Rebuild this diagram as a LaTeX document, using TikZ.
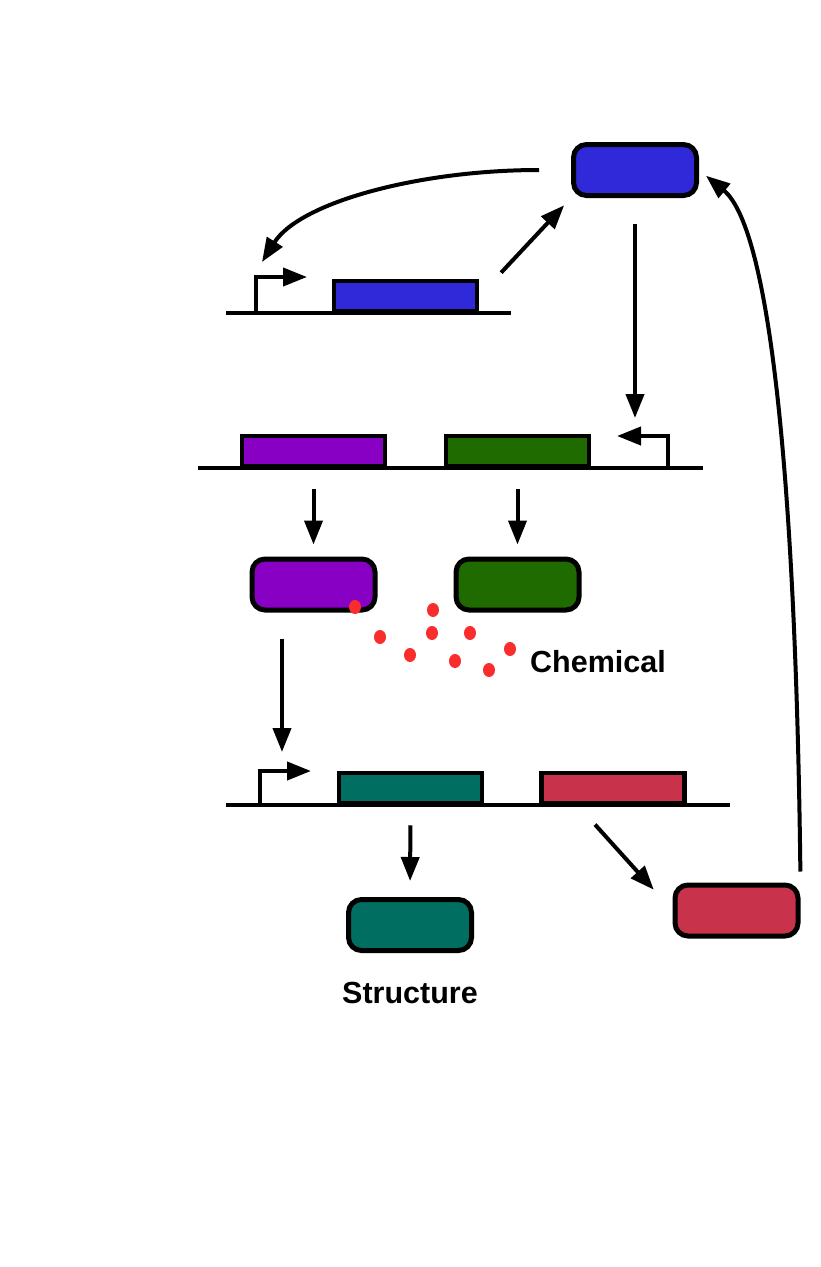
\documentclass[tikz,border=0pt]{standalone}
\usepackage{fontspec}
\setmainfont{Liberation Sans}
\usetikzlibrary{arrows.meta,calc}

\definecolor{bluep}{RGB}{48,41,217}
\definecolor{purplep}{RGB}{136,0,196}
\definecolor{greenp}{RGB}{32,107,0}
\definecolor{tealp}{RGB}{0,110,96}
\definecolor{redp}{RGB}{200,50,75}
\definecolor{dotred}{RGB}{250,45,45}

\begin{document}
\begin{tikzpicture}[x=1pt,y=-1pt,
	gene/.style={draw, line width=4.5pt, minimum width=143pt, minimum height=30pt, inner sep=0pt},
	prot/.style={draw, line width=5pt, rounded corners=13pt, minimum width=123pt, minimum height=51pt, inner sep=0pt},
	arr/.style={line width=4pt, -{Triangle[length=24pt,width=18pt]}},
	dna/.style={line width=4.5pt},
	lbl/.style={font=\bfseries\fontsize{30.5}{36}\selectfont, inner sep=0pt}]
	
	\fill[white] (0,0) rectangle (820,1267);
	\useasboundingbox (0,0) rectangle (820,1267);
	
	% proteins
	\node[prot, fill=bluep] (bprot) at (635,170) {};
	\node[prot, fill=purplep] (pprot) at (313.5,584.5) {};
	\node[prot, fill=greenp] (gprot) at (517.5,584.5) {};
	\node[prot, fill=tealp] (tprot) at (410,925) {};
	\node[prot, fill=redp] (rprot) at (736.5,910.5) {};
	
	% genes
	\node[gene, fill=bluep] (bgene) at (405.5,296) {};
	\node[gene, fill=purplep] (pgene) at (313.5,451) {};
	\node[gene, fill=greenp] (ggene) at (517.5,451) {};
	\node[gene, fill=tealp] (tgene) at (410.5,788) {};
	\node[gene, fill=redp] (rgene) at (613,788) {};
	
	% DNA
	\draw[dna] (226,313) -- (511,313);
	\draw[dna] (198,468) -- (703,468);
	\draw[dna] (226,805) -- (730,805);
	
	% promoters
	\draw[arr] (256,313) |- (307,277);
	\draw[arr] (668,468) |- (617,436);
	\draw[arr] (260,805) |- (311,771);
	
	\coordinate (t1) at (262,262);
	\coordinate (t2) at (635,418);
	\coordinate (t3) at (282,752);
	
	% arrows
	\draw[arr, shorten <=32pt, shorten >=10pt] (bgene.east) -- (bprot.south west);
	\draw[arr, shorten <=32pt] (bprot.west) .. controls (420,170) and (300,202) .. (t1);
	\draw[arr, shorten <=26pt] (bprot.south) -- (t2);
	\draw[arr, shorten <=21pt, shorten >=12pt] (pgene.south) -- (pprot.north);
	\draw[arr, shorten <=21pt, shorten >=12pt] (ggene.south) -- (gprot.north);
	\draw[arr, shorten <=26pt] (pprot.south -| t3) -- (t3);
	\draw[arr, shorten <=20pt, shorten >=16pt] (tgene.south) -- (tprot.north);
	\draw[arr, shorten <=26pt, shorten >=28pt] ($(rgene.south west)!0.26!(rgene.south east)$) -- (rprot.west);
	\draw[arr, shorten <=11pt, shorten >=9pt] (rprot.north east) .. controls (796,500) and (772,230) .. (bprot.east);
	
	% chemical
	\foreach \x/\y in {355/607, 433/610, 380/637, 432/633, 470/633, 410/655, 510/649, 455/661, 489/670}
		\fill[dotred] (\x,\y) ellipse [x radius=6, y radius=7];
	
	\node[lbl, anchor=west] (chem) at (530,662) {Chemical};
	\node[lbl] (struct) at (410,993) {Structure};
	
\end{tikzpicture}
\end{document}
